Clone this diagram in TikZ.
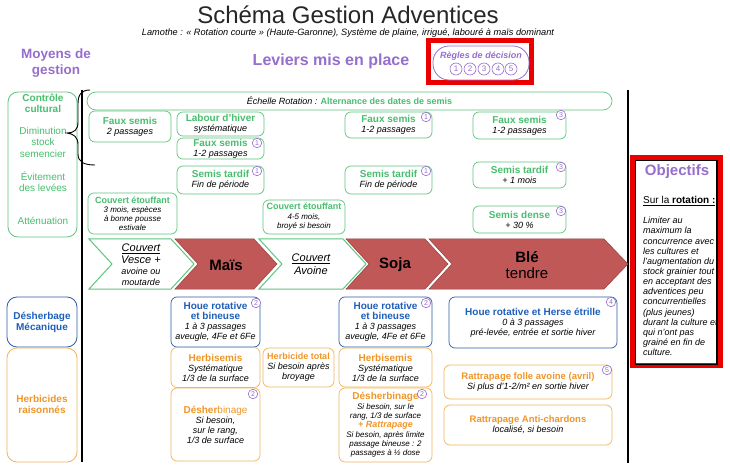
\documentclass[tikz,border=0pt]{standalone}
\usepackage{fontspec}
\setmainfont{Liberation Sans}
\definecolor{gtxt}{RGB}{72,190,110}
\definecolor{gline}{RGB}{95,198,125}
\definecolor{btxt}{RGB}{30,95,185}
\definecolor{bline}{RGB}{45,95,165}
\definecolor{otxt}{RGB}{240,150,40}
\definecolor{oline}{RGB}{242,180,95}
\definecolor{purp}{RGB}{150,110,205}
\definecolor{redc}{RGB}{192,88,88}
\definecolor{redl}{RGB}{150,65,65}
\definecolor{brightred}{RGB}{235,0,0}
\newcommand\gH[1]{{\upshape\bfseries\fontsize{10}{10}\selectfont\color{gtxt}#1}}
\newcommand\gHs[1]{{\upshape\bfseries\fontsize{9}{9}\selectfont\color{gtxt}#1}}
\newcommand\bH[1]{{\upshape\bfseries\fontsize{10}{10}\selectfont\color{btxt}#1}}
\newcommand\oH[1]{{\upshape\bfseries\fontsize{10}{10}\selectfont\color{otxt}#1}}
\newcommand\oHs[1]{{\upshape\bfseries\fontsize{9}{9}\selectfont\color{otxt}#1}}
\begin{document}
\begin{tikzpicture}[x=1pt,y=-1pt,
  bx/.style={draw, rounded corners=6pt, line width=0.7pt, fill=white, align=center, inner sep=1pt, font=\fontsize{9}{10}\selectfont\itshape},
  gb/.style={bx, draw=gline},
  bb/.style={bx, draw=bline},
  ob/.style={bx, draw=oline},
  badge/.style={circle, draw=purp, fill=white, line width=0.6pt, inner sep=0pt, minimum size=9.5pt, text=purp, font=\fontsize{7}{7}\selectfont},
  bigbadge/.style={badge, minimum size=12pt, font=\fontsize{8}{8}\selectfont},
  lbox/.style={draw, rounded corners=10pt, line width=0.8pt, fill=white},
  ltext/.style={align=center, font=\fontsize{10}{11.5}\selectfont},
  redbar/.style={fill=redc, draw=redl, line width=0.5pt},
  whitebar/.style={fill=white, draw=gline, line width=1pt},
  sep/.style={line width=1.3pt, black}
]
\useasboundingbox (0,0) rectangle (730,470);
\fill[white] (0,0) rectangle (730,470);

% titles
\node[font=\fontsize{24}{26}\selectfont, text=black!85] (title) at (348,15) {Schéma Gestion Adventices};
\node[font=\fontsize{9.2}{10}\selectfont\itshape] (sub) at (348,33) {Lamothe : « Rotation courte » (Haute-Garonne), Système de plaine, irrigué, labouré à maïs dominant};
\node[text=purp, align=center, font=\fontsize{13.5}{16}\selectfont\bfseries] (moy) at (56,63) {Moyens de\\gestion};
\node[text=purp, font=\fontsize{16}{18}\selectfont\bfseries] (lev) at (331,61) {Leviers mis en place};

% regles de decision
\draw[brightred, line width=4.5pt] (428.5,40.5) rectangle (531.5,82.5);
\node[draw=purp, line width=0.8pt, rounded corners=16pt, minimum width=96pt, minimum height=34pt] (regl) at (481,63) {};
\node[text=purp, font=\fontsize{9}{10}\selectfont\bfseries\itshape] (reglt) at (481,56) {Règles de décision};
\node[bigbadge] (r1) at (456,69) {1};
\node[bigbadge] (r2) at (470,69) {2};
\node[bigbadge] (r3) at (484,69) {3};
\node[bigbadge] (r4) at (498,69) {4};
\node[bigbadge] (r5) at (511,69) {5};

% separators
\coordinate (sl1) at (82,90);
\coordinate (sl2) at (82,462);
\coordinate (sr1) at (628,90);
\coordinate (sr2) at (628,463);
\draw[sep] (sl1) -- (sl2);
\draw[sep] (sr1) -- (sr2);

% left column
\node[lbox, draw=gline, minimum width=69pt, minimum height=145pt] (lcbox) at (42.5,164.5) {};
\node[lbox, draw=bline, minimum width=70pt, minimum height=50pt] (ldbox) at (42,322) {};
\node[lbox, draw=oline, minimum width=70pt, minimum height=114pt] (lhbox) at (42,405) {};
\node[ltext, text=gtxt, font=\fontsize{10}{11.5}\selectfont\bfseries] (ctrl) at (43,103.5) {Contrôle\\cultural};
\node[ltext, text=gtxt] (dimi) at (43,142) {Diminution\\stock\\semencier};
\node[ltext, text=gtxt] (evit) at (43,181.5) {Évitement\\des levées};
\node[ltext, text=gtxt] (atte) at (43,221) {Atténuation};
\node[ltext, text=btxt, font=\fontsize{10}{11}\selectfont\bfseries] (desh) at (42,322) {Désherbage\\Mécanique};
\node[ltext, text=otxt, font=\fontsize{10}{11}\selectfont\bfseries] (herb) at (42,404.5) {Herbicides\\raisonnés};

% brace
\draw[line width=0.9pt] (90,90) .. controls (81,90) and (78,95) .. (78,104) -- (78,122)
  .. controls (78,130) and (74,133) .. (67,133) .. controls (74,134) and (78,137) .. (78,145)
  -- (78,154) .. controls (78,162) and (84,165) .. (95,165);

% top row
\node[gb, rounded corners=9pt, minimum width=525pt, minimum height=18pt, font=\fontsize{9}{10}\selectfont] (ech) at (349.5,101) {\textit{Échelle Rotation :} {\bfseries\color{gtxt}Alternance des dates de semis}};

\node[gb, minimum width=82pt, minimum height=31pt] (fs1) at (130,126.5) {\gH{Faux semis}\\2 passages};
\node[gb, minimum width=87pt, minimum height=24pt] (lab) at (220.5,124) {\gH{Labour d'hiver}\\systématique};
\node[gb, minimum width=87pt, minimum height=21pt] (fs2) at (220.5,148.5) {\gH{Faux semis}\\1-2 passages};
\node[badge] (bfs2) at (257,143) {1};
\node[gb, minimum width=87pt, minimum height=28pt] (st1) at (220.5,180) {\gH{Semis tardif}\\Fin de période};
\node[badge] (bst1) at (257,171) {1};
\node[gb, minimum width=89pt, minimum height=41pt, font=\fontsize{8}{9}\selectfont\itshape] (ce1) at (132.5,213.5) {\gHs{Couvert étouffant}\\3 mois, espèces\\à bonne pousse\\estivale};
\node[gb, minimum width=82pt, minimum height=34pt, font=\fontsize{8}{9.5}\selectfont\itshape] (ce2) at (304,217) {\gHs{Couvert étouffant}\\4-5 mois,\\broyé si besoin};
\node[gb, minimum width=87pt, minimum height=26pt] (fs3) at (388.5,125) {\gH{Faux semis}\\1-2 passages};
\node[badge] (bfs3) at (426,117) {1};
\node[gb, minimum width=87pt, minimum height=28pt] (st2) at (388.5,180) {\gH{Semis tardif}\\Fin de période};
\node[badge] (bst2) at (426,171) {1};
\node[gb, minimum width=93pt, minimum height=27pt] (fs4) at (519.5,125.5) {\gH{Faux semis}\\1-2 passages};
\node[badge] (bfs4) at (561,115) {3};
\node[gb, minimum width=93pt, minimum height=26pt] (st3) at (519.5,175) {\gH{Semis tardif}\\+ 1 mois};
\node[badge] (bst3) at (561,167) {3};
\node[gb, minimum width=93pt, minimum height=27pt] (sd) at (519.5,219.5) {\gH{Semis dense}\\+ 30 \%};
\node[badge] (bsd) at (561,211) {3};

% rotation band
\filldraw[whitebar] (89,239) -- (171,239) -- (194,264) -- (171,289) -- (89,289) -- (112,264) -- cycle;
\filldraw[redbar] (175,239) -- (254,239) -- (277,264) -- (254,289) -- (175,289) -- (198,264) -- cycle;
\filldraw[whitebar] (259,239) -- (343,239) -- (366,264) -- (343,289) -- (259,289) -- (282,264) -- cycle;
\filldraw[redbar] (346,239) -- (425,239) -- (448,264) -- (425,289) -- (346,289) -- (369,264) -- cycle;
\filldraw[redbar] (429,239) -- (604,239) -- (628,264) -- (604,289) -- (429,289) -- (452,264) -- cycle;
\node[align=center, font=\fontsize{9}{11.3}\selectfont\itshape] (vesce) at (141,265) {{\fontsize{11}{11.3}\selectfont\underline{Couvert}}\\{\fontsize{11}{11.3}\selectfont Vesce +}\\avoine ou\\moutarde};
\node[font=\fontsize{15}{16}\selectfont\bfseries] (mais) at (226,265) {Maïs};
\node[align=center, font=\fontsize{11}{12.5}\selectfont\itshape] (avoine) at (311,264) {\underline{Couvert}\\Avoine};
\node[font=\fontsize{15}{16}\selectfont\bfseries] (soja) at (395,265) {Soja};
\node[align=center, font=\fontsize{15}{16}\selectfont] (ble) at (527,265) {\textbf{Blé}\\tendre};

% lower part
\node[bb, minimum width=89pt, minimum height=50pt] (h1) at (215.5,322) {\bH{Houe rotative}\\\bH{et bineuse}\\1 à 3 passages\\aveugle, 4Fe et 6Fe};
\node[badge] (bh1) at (256,303) {2};
\node[ob, minimum width=89pt, minimum height=40pt] (hs1) at (215.5,367.5) {\oH{Herbisemis}\\Systématique\\1/3 de la surface};
\node[ob, minimum width=89pt, minimum height=73pt] (db1) at (215.5,424.5) {\oH{Désher}{\upshape\fontsize{10}{10}\selectfont\color{otxt}binage}\\Si besoin,\\sur le rang,\\1/3 de surface};
\node[badge] (bdb1) at (253,394) {2};
\node[ob, minimum width=71pt, minimum height=39pt] (ht) at (298.5,367.5) {\oHs{Herbicide total}\\Si besoin après\\broyage};
\node[bb, minimum width=93pt, minimum height=50pt] (h2) at (385.5,322) {\bH{Houe rotative}\\\bH{et bineuse}\\1 à 3 passages\\aveugle, 4Fe et 6Fe};
\node[badge] (bh2) at (426,303) {2};
\node[ob, minimum width=93pt, minimum height=39pt] (hs2) at (385.5,367.5) {\oH{Herbisemis}\\Systématique\\1/3 de la surface};
\node[ob, minimum width=93pt, minimum height=74pt, font=\fontsize{8}{9.3}\selectfont\itshape] (db2) at (385.5,425) {\oH{Désherbinage}\\Si besoin, sur le\\rang, 1/3 de surface\\{\bfseries\color{otxt}\fontsize{9}{9.3}\selectfont + Rattrapage}\\Si besoin, après limite\\passage bineuse : 2\\passages à ½ dose};
\node[badge] (bdb2) at (422,394) {2};
\node[bb, minimum width=168pt, minimum height=51pt] (h3) at (533,322.5) {\bH{Houe rotative et Herse étrille}\\0 à 3 passages\\pré-levée, entrée et sortie hiver};
\node[badge] (bh3) at (611,302) {4};
\node[ob, minimum width=168pt, minimum height=34pt] (rf) at (528,382) {{\upshape\bfseries\fontsize{9.5}{10}\selectfont\color{otxt}Rattrapage folle avoine (avril)}\\Si plus d'1-2/m² en sortie hiver};
\node[badge] (brf) at (607,370) {5};
\node[ob, minimum width=168pt, minimum height=40pt] (rc) at (528,425) {{\upshape\bfseries\fontsize{9.5}{10}\selectfont\color{otxt}Rattrapage Anti-chardons}\\localisé, si besoin};

% objectifs
\draw[brightred, line width=4.5pt, fill=white] (632.5,157.5) rectangle (720.5,365.5);
\draw[black, line width=0.6pt] (635,160) rectangle (717,364);
\draw[black, line width=2.5pt] (717,160) -- (717,364);
\node[text=purp, font=\fontsize{15}{16}\selectfont\bfseries] (obj) at (677,172) {Objectifs};
\node[anchor=west, inner sep=0pt, font=\fontsize{10}{11}\selectfont] (surl) at (643,201) {\underline{Sur la \textbf{rotation :}}};
\node[anchor=north west, inner sep=0pt, align=left, font=\fontsize{9}{10.15}\selectfont\itshape] (objt) at (643,217) {Limiter au\\maximum la\\concurrence avec\\les cultures et\\l'augmentation du\\stock grainier tout\\en acceptant des\\adventices peu\\concurrentielles\\(plus jeunes)\\durant la culture et\\qui n'ont pas\\grainé en fin de\\culture.};
\end{tikzpicture}
\end{document}
